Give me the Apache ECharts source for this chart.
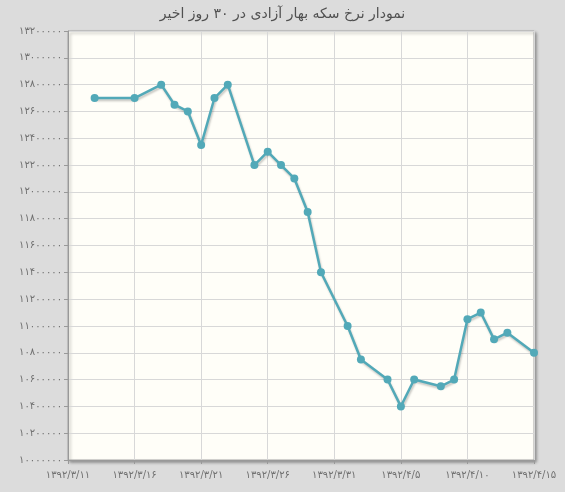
<!DOCTYPE html>
<html>
<head>
<meta charset="utf-8">
<script src="https://cdn.jsdelivr.net/npm/echarts@6/dist/echarts.min.js"></script>
<style>
html,body{margin:0;padding:0;background:#dcdcdc;}
#chart{width:565px;height:492px;}
</style>
</head>
<body>
<div id="chart"></div>
<script>
var titleText = 'نمودار نرخ سکه بهار آزادی در ۳۰ روز اخیر';
var dates = [
  '1392/3/11','1392/3/12','1392/3/13','1392/3/14','1392/3/15','1392/3/16','1392/3/17','1392/3/18',
  '1392/3/19','1392/3/20','1392/3/21','1392/3/22','1392/3/23','1392/3/24','1392/3/25','1392/3/26',
  '1392/3/27','1392/3/28','1392/3/29','1392/3/30','1392/3/31','1392/4/1','1392/4/2','1392/4/3',
  '1392/4/4','1392/4/5','1392/4/6','1392/4/7','1392/4/8','1392/4/9','1392/4/10','1392/4/11',
  '1392/4/12','1392/4/13','1392/4/14','1392/4/15'
];
var prices = [
  null, null, 12700000, null, null, 12700000, null, 12800000,
  12650000, 12600000, 12350000, 12700000, 12800000, null, 12200000, 12300000,
  12200000, 12100000, 11850000, 11400000, null, 11000000, 10750000, null,
  10600000, 10400000, 10600000, null, 10550000, 10600000, 11050000, 11100000,
  10900000, 10950000, null, 10800000
];
var yMin = 10000000, yMax = 13200000, yStep = 200000;

function toFa(s){
  return String(s).replace(/[0-9]/g, function(d){ return '۰۱۲۳۴۵۶۷۸۹'[+d]; });
}

var chart = echarts.init(document.getElementById('chart'));
chart.setOption({
  backgroundColor: '#dcdcdc',
  animation: false,
  title: {
    text: titleText,
    left: 'center',
    top: 2,
    textStyle: { fontFamily: 'DejaVu Sans', fontSize: 14, fontWeight: 'normal', color: '#505050' }
  },
  grid: {
    left: 68, right: 31, top: 31, bottom: 32,
    show: true,
    backgroundColor: '#fffef8',
    borderColor: '#a8a8a8',
    borderWidth: 1,
    shadowColor: 'rgba(0,0,0,0.35)',
    shadowBlur: 3,
    shadowOffsetX: 2,
    shadowOffsetY: 2
  },
  xAxis: {
    type: 'category',
    data: dates,
    boundaryGap: false,
    axisLine: { lineStyle: { color: '#999', width: 1 } },
    axisTick: { show: true, interval: 4, length: 4, lineStyle: { color: '#999' } },
    splitLine: { show: true, interval: 4, lineStyle: { color: '#d8d8d8', width: 1 } },
    axisLabel: {
      interval: 4,
      margin: 10,
      color: '#707070',
      fontFamily: 'DejaVu Sans',
      fontSize: 10,
      formatter: function(v){ return toFa(v); }
    }
  },
  yAxis: {
    type: 'value',
    min: yMin, max: yMax, interval: yStep,
    axisLine: { show: true, lineStyle: { color: '#999', width: 1 } },
    axisTick: { show: true, length: 4, lineStyle: { color: '#999' } },
    splitLine: { show: true, lineStyle: { color: '#d8d8d8', width: 1 } },
    axisLabel: {
      margin: 6,
      color: '#707070',
      fontFamily: 'DejaVu Sans',
      fontSize: 10,
      formatter: function(v){ return toFa(v); }
    }
  },
  series: [{
    type: 'line',
    data: prices,
    connectNulls: true,
    symbol: 'circle',
    symbolSize: 8,
    itemStyle: { color: '#52a9b8' },
    lineStyle: {
      color: '#52a9b8', width: 2.5,
      shadowColor: 'rgba(0,0,0,0.22)', shadowBlur: 2, shadowOffsetX: 1, shadowOffsetY: 2
    }
  }]
});
</script>
</body>
</html>
